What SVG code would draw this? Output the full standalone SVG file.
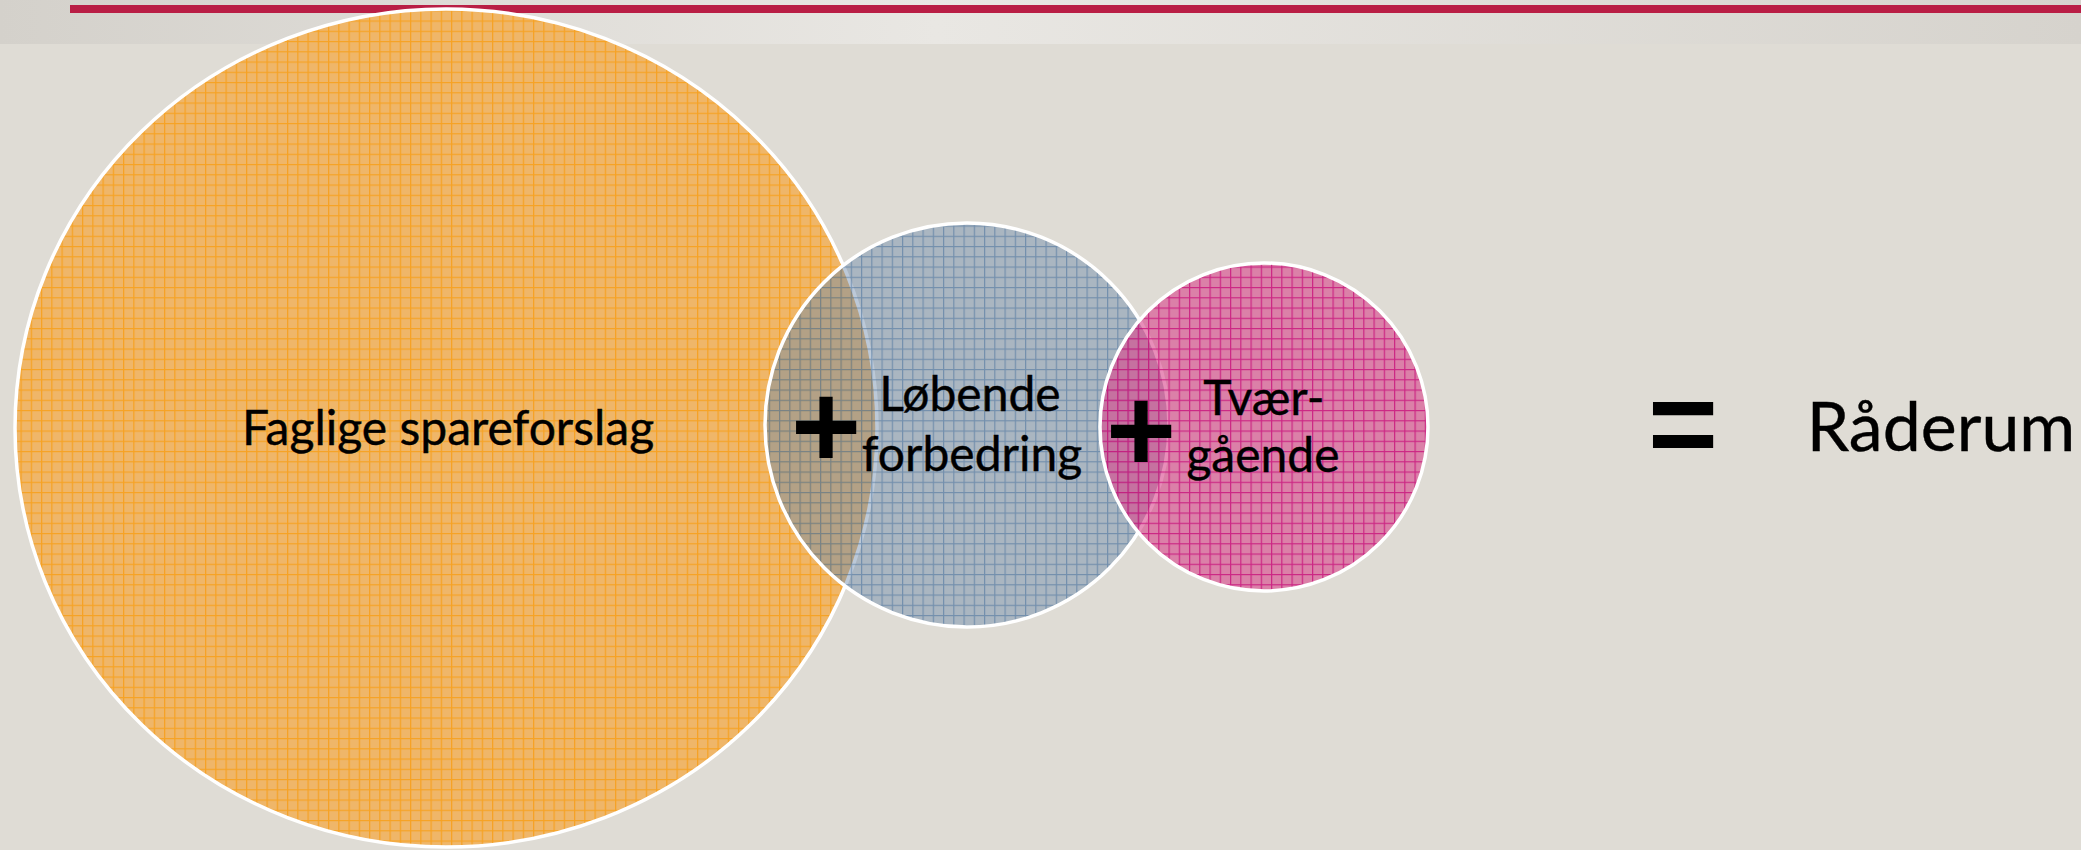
<svg xmlns="http://www.w3.org/2000/svg" width="2081" height="850" viewBox="0 0 2081 850">
  <defs>
    <linearGradient id="band" x1="0" y1="0" x2="1" y2="0">
      <stop offset="0" stop-color="#d4d1cb"/>
      <stop offset="0.45" stop-color="#e9e7e3"/>
      <stop offset="1" stop-color="#d6d3cd"/>
    </linearGradient>
    <pattern id="gridO" patternUnits="userSpaceOnUse" width="10.25" height="10.25">
      <rect width="10.25" height="10.25" fill="#efb669"/>
      <path d="M0.6 0V10.25M0 0.6H10.25" stroke="#f6a224" stroke-width="1.3" fill="none"/>
    </pattern>
    <pattern id="gridB" patternUnits="userSpaceOnUse" width="10.25" height="10.25">
      <rect width="10.25" height="10.25" fill="#6a87a8" fill-opacity="0.45"/>
      <path d="M0.6 0V10.25M0 0.6H10.25" stroke="#4f77a0" stroke-opacity="0.6" stroke-width="1.2" fill="none"/>
    </pattern>
    <pattern id="gridP" patternUnits="userSpaceOnUse" width="10.25" height="10.25">
      <rect width="10.25" height="10.25" fill="#d8428a" fill-opacity="0.6"/>
      <path d="M0.6 0V10.25M0 0.6H10.25" stroke="#c8107a" stroke-opacity="0.8" stroke-width="1.2" fill="none"/>
    </pattern>
    <style>
      .lbl { font-family: Lato, "Open Sans", "Liberation Sans", sans-serif; fill: #000; text-anchor: middle; stroke: #000; stroke-width: 0.4; }
      .op { font-family: "Liberation Sans", Arial, sans-serif; font-weight: bold; font-size: 120px; fill: #000; text-anchor: middle; }
      .ring { stroke: #ffffff; stroke-width: 3.5; }
    </style>
  </defs>

  <rect x="0" y="0" width="2081" height="850" fill="#dfdcd5"/>
  <rect x="0" y="0" width="2081" height="44" fill="url(#band)"/>
  <rect x="70" y="5" width="2011" height="8" fill="#b91e45"/>

  <g id="node-faglige">
    <ellipse class="ring" cx="446" cy="428" rx="431" ry="419" fill="url(#gridO)"/>
    <text class="lbl" x="448" y="445" font-size="48">Faglige spareforslag</text>
  </g>

  <g id="node-loebende">
    <circle class="ring" cx="967" cy="425" r="202" fill="url(#gridB)"/>
    <text class="lbl" x="970" y="411" font-size="48">Løbende</text>
    <text class="lbl" x="972" y="471" font-size="48">forbedring</text>
  </g>

  <g id="node-tvaergaaende">
    <circle class="ring" cx="1264" cy="427" r="164" fill="url(#gridP)"/>
    <text class="lbl" x="1264" y="415" font-size="48">Tvær-</text>
    <text class="lbl" x="1263" y="472" font-size="48">gående</text>
  </g>

  <g id="node-raaderum">
    <text class="lbl" x="1941" y="451" font-size="68">Råderum</text>
  </g>

  <g id="connectors">
    <text class="op" x="826" y="468">+</text>
    <text class="op" x="1141" y="472">+</text>
    <text class="op" x="1683" y="465" font-size="112">=</text>
  </g>
</svg>
